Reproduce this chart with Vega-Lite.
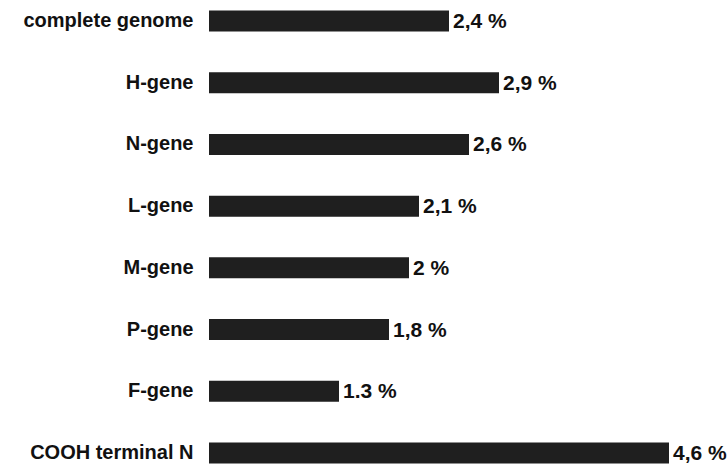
{
  "$schema": "https://vega.github.io/schema/vega-lite/v6.json",
  "width": 519,
  "height": 474,
  "autosize": "none",
  "padding": {"left": 209, "top": 0, "right": 0, "bottom": 0},
  "background": "white",
  "config": {"view": {"stroke": null}, "font": "Liberation Sans"},
  "data": {
    "values": [
      {"segment": "complete genome", "pct": 2.4, "label": "2,4 %"},
      {"segment": "H-gene", "pct": 2.9, "label": "2,9 %"},
      {"segment": "N-gene", "pct": 2.6, "label": "2,6 %"},
      {"segment": "L-gene", "pct": 2.1, "label": "2,1 %"},
      {"segment": "M-gene", "pct": 2, "label": "2 %"},
      {"segment": "P-gene", "pct": 1.8, "label": "1,8 %"},
      {"segment": "F-gene", "pct": 1.3, "label": "1.3 %"},
      {"segment": "COOH terminal N", "pct": 4.6, "label": "4,6 %"}
    ]
  },
  "encoding": {
    "y": {
      "field": "segment",
      "type": "nominal",
      "sort": null,
      "scale": {"paddingInner": 0.66, "paddingOuter": 0.17},
      "axis": {
        "title": null,
        "domain": false,
        "ticks": false,
        "labelFontSize": 20,
        "labelFontWeight": "bold",
        "labelColor": "#111",
        "labelPadding": 16,
        "labelLimit": 300
      }
    },
    "x": {
      "field": "pct",
      "type": "quantitative",
      "scale": {"domain": [0, 5.19], "nice": false},
      "axis": null
    }
  },
  "layer": [
    {"mark": {"type": "bar", "color": "#1f1f1f"}},
    {
      "mark": {"type": "text", "align": "left", "baseline": "middle", "dx": 4, "dy": 1, "fontSize": 21, "fontWeight": "bold", "color": "#111"},
      "encoding": {"text": {"field": "label"}}
    }
  ]
}
